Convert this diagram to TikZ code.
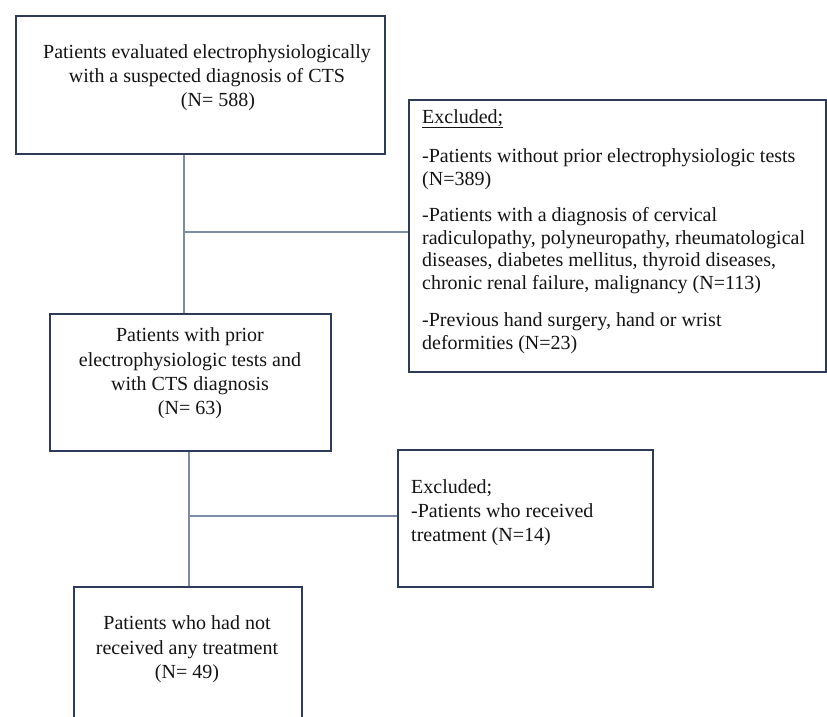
\documentclass[tikz,border=0pt]{standalone}
\usepackage{fontspec}
\setmainfont{Liberation Serif}
\definecolor{boxline}{HTML}{2E3B58}
\definecolor{conline}{HTML}{7C8BA6}
\definecolor{txt}{HTML}{141414}
\begin{document}
\begin{tikzpicture}[x=1pt,y=-1pt,
  flowbox/.style={draw=boxline,line width=1.8pt,rectangle,inner sep=0pt,anchor=north west},
  ctext/.style={inner sep=0pt,align=center,anchor=base,text=txt,font=\fontsize{20}{24.2}\selectfont},
  ltext/.style={inner sep=0pt,align=left,anchor=base west,text=txt,font=\fontsize{20}{22.7}\selectfont},
  conn/.style={draw=conline,line width=1.3pt}]
\clip (0,0) rectangle (827,717);
\fill[white] (0,0) rectangle (827,717);
% boxes
\node[flowbox,minimum width=369pt,minimum height=138pt] (b1) at (15,15) {};
\node[flowbox,minimum width=417pt,minimum height=272pt] (ex1) at (408,99) {};
\node[flowbox,minimum width=281pt,minimum height=137pt] (b2) at (49,313) {};
\node[flowbox,minimum width=255pt,minimum height=137pt] (ex2) at (397,449) {};
\node[flowbox,minimum width=228pt,minimum height=160pt] (b3) at (73,586) {};
% texts (anchored at the baseline of the last line)
\node[ctext] (t1) at (207,106.5) {Patients evaluated electrophysiologically\\with a suspected diagnosis of CTS\\\hspace*{22pt}(N= 588)};
\node[ltext] (te1) at (422,349.3) {\underline{Excluded;}\\[17pt]
-Patients without prior electrophysiologic tests\\(N=389)\\[13pt]
-Patients with a diagnosis of cervical\\radiculopathy, polyneuropathy, rheumatological\\diseases, diabetes mellitus, thyroid diseases,\\chronic renal failure, malignancy (N=113)\\[14.5pt]
-Previous hand surgery, hand or wrist\\deformities (N=23)};
\node[ctext] (t2) at (190,414.5) {Patients with prior\\electrophysiologic tests and\\with CTS diagnosis\\(N= 63)};
\node[ltext,font=\fontsize{20}{24.3}\selectfont] (te2) at (411,541.7) {Excluded;\\-Patients who received\\treatment (N=14)};
\node[ctext] (t3) at (187,678.2) {Patients who had not\\received any treatment\\(N= 49)};
% connectors
\coordinate (j1) at (184,232);
\coordinate (j2) at (189,516);
\draw[conn] (j1 |- b1.south) -- (j1 |- b2.north);
\draw[conn] (j1) -- (j1 -| ex1.west);
\draw[conn] (j2 |- b2.south) -- (j2 |- b3.north);
\draw[conn] (j2) -- (j2 -| ex2.west);
\end{tikzpicture}
\end{document}
